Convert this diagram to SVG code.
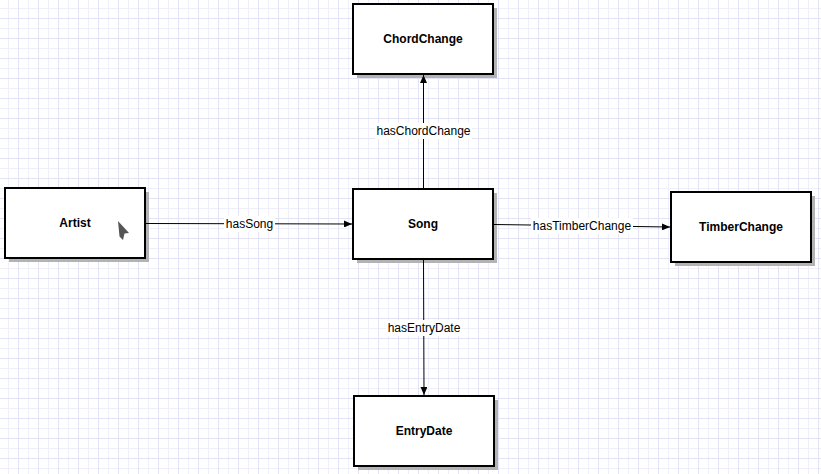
<svg xmlns="http://www.w3.org/2000/svg" width="821" height="474" viewBox="0 0 821 474">
<style>
.box{fill:#fff;stroke:#000;stroke-width:2}
.shadow{fill:#b3b3b3}
.lbl{font-family:"Liberation Sans",Arial,sans-serif;font-size:12px;font-weight:bold;fill:#000;text-anchor:middle;dominant-baseline:central}
.elbl{font-family:"Liberation Sans",Arial,sans-serif;font-size:12px;fill:#000;text-anchor:middle;dominant-baseline:central}
.edge{stroke:#000;stroke-width:1;fill:none;marker-end:url(#arr)}
.lblbg{fill:#fff}
</style>
<defs>
<pattern id="grid" x="8" y="8" width="20" height="20" patternUnits="userSpaceOnUse">
<path d="M0.5 0V20M0 0.5H20" stroke="#efeffb" stroke-width="1" fill="none"/>
<path d="M10.5 0V20M0 10.5H20" stroke="#e3e3f8" stroke-width="1" fill="none"/>
</pattern>
<marker id="arr" viewBox="0 0 8 7" refX="8" refY="3.5" markerWidth="8" markerHeight="7" markerUnits="userSpaceOnUse" orient="auto">
<path d="M0 0L8 3.5L0 7z" fill="#000"/>
</marker>
</defs>
<rect width="821" height="474" fill="#fff"/>
<rect width="821" height="474" fill="url(#grid)"/>

<g id="ChordChange">
<rect class="shadow" x="357" y="8" width="140" height="70"/>
<rect class="box" x="353" y="4" width="140" height="70"/>
<text class="lbl" x="423" y="39">ChordChange</text>
</g>
<g id="Artist">
<rect class="shadow" x="9" y="192" width="140" height="70"/>
<rect class="box" x="5" y="188" width="140" height="70"/>
<text class="lbl" x="75" y="223">Artist</text>
</g>
<g id="Song">
<rect class="shadow" x="357" y="193" width="140" height="70"/>
<rect class="box" x="353" y="189" width="140" height="70"/>
<text class="lbl" x="423" y="224">Song</text>
</g>
<g id="TimberChange">
<rect class="shadow" x="675" y="196" width="140" height="70"/>
<rect class="box" x="671" y="192" width="140" height="70"/>
<text class="lbl" x="741" y="227">TimberChange</text>
</g>
<g id="EntryDate">
<rect class="shadow" x="358" y="400" width="140" height="70"/>
<rect class="box" x="354" y="396" width="140" height="70"/>
<text class="lbl" x="424" y="431">EntryDate</text>
</g>

<g id="connectors">
<line class="edge" x1="146" y1="223.5" x2="352" y2="224"/>
<line class="edge" x1="423.5" y1="188" x2="423.5" y2="75"/>
<line class="edge" x1="494" y1="224.5" x2="670" y2="227"/>
<line class="edge" x1="423.5" y1="260" x2="424" y2="395"/>
<rect class="lblbg" x="224" y="216" width="51" height="16"/>
<text class="elbl" x="249.5" y="224">hasSong</text>
<rect class="lblbg" x="375" y="123" width="97" height="16"/>
<text class="elbl" x="423.5" y="131">hasChordChange</text>
<rect class="lblbg" x="531" y="218" width="102" height="16"/>
<text class="elbl" x="582" y="226">hasTimberChange</text>
<rect class="lblbg" x="386" y="320" width="76" height="16"/>
<text class="elbl" x="424" y="328">hasEntryDate</text>
</g>

<path d="M118 221L129 233L124.5 233.5L123 240L119.5 236.5L118 221z" fill="#555"/>
</svg>
